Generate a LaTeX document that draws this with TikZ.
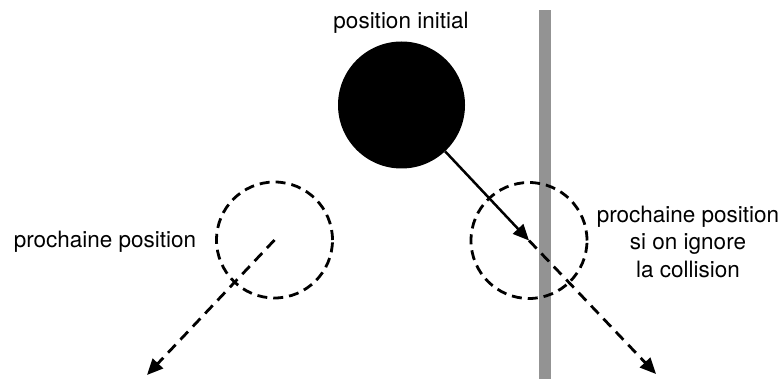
\documentclass[tikz,border=0pt]{standalone}
\usepackage{fontspec}
\setmainfont{TeX Gyre Heros}
\usetikzlibrary{arrows.meta}
\definecolor{wallgray}{RGB}{147,147,147}
\begin{document}
\begin{tikzpicture}[x=1pt,y=-1pt,
  ball/.style={circle,fill=black,draw=none,minimum size=127pt,inner sep=0pt},
  ghost/.style={circle,draw=black,line width=2.8pt,dash pattern=on 10pt off 6pt,minimum size=116pt,inner sep=0pt},
  lbl/.style={font=\fontsize{22.5}{27.5}\selectfont,align=center,inner sep=0pt},
  mv/.style={line width=2.5pt,-{Triangle[length=16pt,width=14pt]}},
  mvdash/.style={mv,line width=2.8pt,dash pattern=on 11pt off 7pt}]
\useasboundingbox (0,0) rectangle (783,379);
\fill[wallgray] (539,10) rectangle (551,379);
\node[ball] (ball) at (401.5,105) {};
\node[ghost] (rc) at (529,240.5) {};
\node[ghost] (lc) at (274.5,240) {};
\coordinate (rend) at (656,374);
\coordinate (lend) at (147,375);
\node[lbl,anchor=base] (tini) at (401,29) {position initial};
\node[lbl,anchor=base] (tl) at (105,247) {prochaine position};
\node[lbl,anchor=base] (tr) at (688,277) {prochaine position\\si on ignore\\la collision};
\draw[mv] (ball) -- (rc.center);
\draw[mvdash] (rc.center) -- (rend);
\draw[mvdash] (lc.center) -- (lend);
\end{tikzpicture}
\end{document}
